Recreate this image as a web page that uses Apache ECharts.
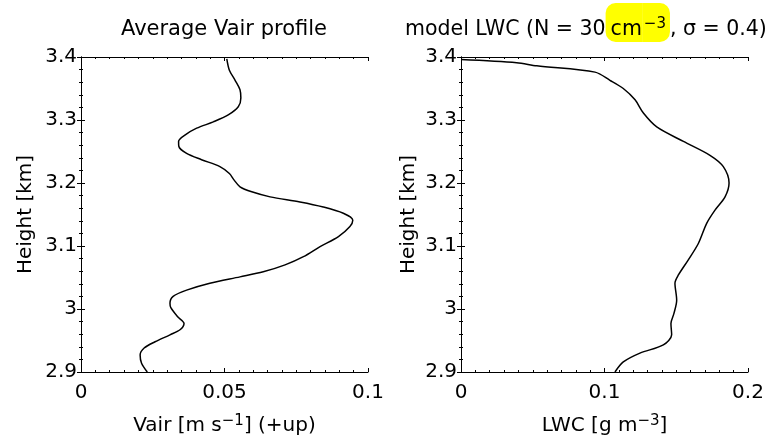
<!DOCTYPE html>
<html>
<head>
<meta charset="utf-8">
<script src="https://cdn.jsdelivr.net/npm/echarts@6/dist/echarts.min.js"></script>
<style>html,body{margin:0;padding:0;background:#fff}#c{width:775px;height:443px}</style>
</head>
<body>
<div id="c"></div>
<script>
// ---- data ----
const vairHeights = [3.397,3.379,3.363,3.348,3.335,3.321,3.308,3.297,3.287,3.276,3.266,3.258,3.247,3.237,3.226,3.215,3.205,3.194,3.186,3.178,3.170,3.162,3.152,3.141,3.131,3.115,3.099,3.083,3.070,3.059,3.051,3.041,3.030,3.020,3.009,3.002,2.988,2.977,2.967,2.959,2.948,2.938,2.927,2.914,2.900];
const vairValues  = [0.0508,0.0517,0.0537,0.0554,0.0557,0.0548,0.0513,0.0461,0.0403,0.0362,0.0340,0.0341,0.0368,0.0420,0.0484,0.0517,0.0533,0.0554,0.0595,0.0659,0.0763,0.0844,0.0914,0.0947,0.0937,0.0897,0.0833,0.0775,0.0711,0.0635,0.0554,0.0449,0.0368,0.0321,0.0310,0.0313,0.0336,0.0359,0.0345,0.0310,0.0258,0.0220,0.0206,0.0211,0.0231];
const lwcHeights = [3.396,3.391,3.386,3.376,3.363,3.350,3.332,3.311,3.289,3.266,3.244,3.226,3.200,3.178,3.157,3.136,3.104,3.078,3.054,3.041,3.014,2.993,2.977,2.959,2.943,2.930,2.916,2.900];
const lwcValues  = [0.0,0.0388,0.0528,0.0934,0.1038,0.1131,0.1213,0.1271,0.1364,0.1550,0.1735,0.1828,0.1868,0.1840,0.1770,0.1712,0.1654,0.1584,0.1515,0.1491,0.1503,0.1484,0.1463,0.1468,0.1410,0.1247,0.1131,0.1073];
const yTickLabels = ['2.9','3','3.1','3.2','3.3','3.4'];
const xTickLabelsVair = ['0','0.05','0.1'];
const xTickLabelsLwc = ['0','0.1','0.2'];

const FONT = 'DejaVu Sans';
const BLACK = '#000';

function tickFmt(labels){
  return function(v){
    for (const s of labels) { if (Math.abs(parseFloat(s) - v) < 1e-9) return s; }
    return '';
  };
}
const yMin = parseFloat(yTickLabels[0]), yMax = parseFloat(yTickLabels[yTickLabels.length-1]);
const yInt = parseFloat(yTickLabels[1]) - yMin;

const nameRich = {
  m:{fontFamily:FONT, fontSize:20, fontWeight:'normal', color:BLACK, lineHeight:28, height:20, padding:[8,0,0,0]},
  s:{fontFamily:FONT, fontSize:15, fontWeight:'normal', color:BLACK, lineHeight:28, height:14, padding:[6,0,8,0]}
};

function xAxes(grid, labels, name){
  const mn = parseFloat(labels[0]), mx = parseFloat(labels[labels.length-1]);
  const it = parseFloat(labels[1]) - mn;
  const base = {
    type:'value', gridIndex:grid, min:mn, max:mx, interval:it,
    axisLine:{show:true, lineStyle:{color:BLACK, width:1}},
    axisTick:{show:true, inside:true, length:4, lineStyle:{color:BLACK}},
    minorTick:{show:true, splitNumber:10, length:2, lineStyle:{color:BLACK}},
    splitLine:{show:false}, minorSplitLine:{show:false}
  };
  return [
    Object.assign({}, base, {
      position:'bottom',
      axisLabel:{show:true, margin:11, color:BLACK, fontFamily:FONT, fontSize:20, formatter:tickFmt(labels)},
      name:name, nameLocation:'middle', nameGap:28,
      nameTextStyle:{color:BLACK, fontFamily:FONT, fontSize:20, lineHeight:28, rich:nameRich}
    }),
    Object.assign({}, base, {position:'top', axisLabel:{show:false}})
  ];
}
function yAxes(grid, gap){
  const base = {
    type:'value', gridIndex:grid, min:yMin, max:yMax, interval:yInt,
    axisLine:{show:true, lineStyle:{color:BLACK, width:1}},
    axisTick:{show:true, inside:true, length:4, lineStyle:{color:BLACK}},
    minorTick:{show:true, splitNumber:5, length:2, lineStyle:{color:BLACK}},
    splitLine:{show:false}, minorSplitLine:{show:false}
  };
  return [
    Object.assign({}, base, {
      position:'left',
      axisLabel:{show:true, margin:4, color:BLACK, fontFamily:FONT, fontSize:20, formatter:tickFmt(yTickLabels)},
      name:'Height [km]', nameLocation:'middle', nameGap:gap,
      nameTextStyle:{color:BLACK, fontFamily:FONT, fontSize:20}
    }),
    Object.assign({}, base, {position:'right', axisLabel:{show:false}})
  ];
}

function titleRich(fs){
  return {
    n:{fontFamily:FONT, fontSize:fs, fontWeight:'normal', color:BLACK, lineHeight:39, height:24, padding:[15,0,0,0]},
    h:{fontFamily:FONT, fontSize:fs, fontWeight:'normal', color:BLACK, lineHeight:39, height:24, backgroundColor:'#ffff00', padding:[15,1,0,5], borderRadius:[10,0,0,10]},
    hs:{fontFamily:FONT, fontSize:15, fontWeight:'normal', color:BLACK, lineHeight:39, height:16, backgroundColor:'#ffff00', padding:[13,4,10,1], borderRadius:[0,10,10,0]}
  };
}

const option = {
  animation:false,
  backgroundColor:'#fff',
  title:[
    {text:'{n|Average Vair profile}', left:121, top:3, padding:0, textStyle:{fontWeight:'normal', lineHeight:39, rich:titleRich(21)}},
    {text:'{n|model LWC (N = 30}{h|cm}{hs|\u22123}{n|, \u03c3 = 0.4)}', left:405, top:3, padding:0, textStyle:{fontWeight:'normal', lineHeight:39, rich:titleRich(20.5)}}
  ],
  grid:[
    {left:81, top:57, width:287, height:315, containLabel:false},
    {left:461, top:57, width:287, height:315, containLabel:false}
  ],
  xAxis:[].concat(
    xAxes(0, xTickLabelsVair, '{m|Vair [m s}{s|\u22121}{m|] (+up)}'),
    xAxes(1, xTickLabelsLwc, '{m|LWC [g m}{s|\u22123}{m|]}')
  ),
  yAxis:[].concat(yAxes(0, 45), yAxes(1, 42)),
  series:[
    {type:'line', xAxisIndex:0, yAxisIndex:0, showSymbol:false, smooth:0.3,
     lineStyle:{color:BLACK, width:1.5}, data:vairValues.map((v,i)=>[v, vairHeights[i]])},
    {type:'line', xAxisIndex:2, yAxisIndex:2, showSymbol:false, smooth:0.3,
     lineStyle:{color:BLACK, width:1.5}, data:lwcValues.map((v,i)=>[v, lwcHeights[i]])}
  ]
};
const chart = echarts.init(document.getElementById('c'), null, {renderer:'canvas'});
chart.setOption(option);
</script>
</body>
</html>
